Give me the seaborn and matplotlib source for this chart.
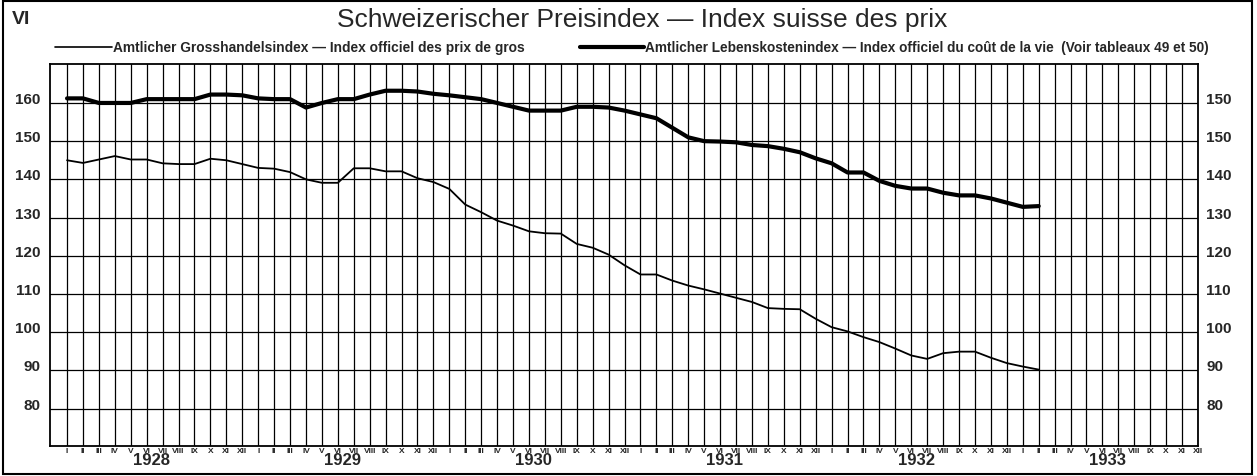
import numpy as np
import pandas as pd
import matplotlib
matplotlib.use("Agg")
import matplotlib.pyplot as plt
import matplotlib.transforms as mtransforms
from matplotlib.lines import Line2D
from matplotlib.patches import Rectangle
import seaborn as sns

# ---------------- data ----------------
years = [1928, 1929, 1930, 1931, 1932, 1933]
months = ["I", "II", "III", "IV", "V", "VI", "VII", "VIII", "IX", "X", "XI", "XII"]

# Amtlicher Grosshandelsindex (thin line), Jan 1928 .. Feb 1933
wholesale = [145.0, 144.3, 145.2, 146.1, 145.2, 145.2, 144.2, 144.0, 144.0, 145.4, 145.0, 144.0,
             143.0, 142.8, 141.9, 140.0, 139.1, 139.1, 142.9, 142.9, 142.1, 142.1, 140.3, 139.3,
             137.5, 133.4, 131.4, 129.2, 127.9, 126.4, 125.9, 125.8, 123.1, 122.1, 120.3, 117.5,
             115.1, 115.1, 113.5, 112.2, 111.2, 110.1, 109.0, 107.9, 106.3, 106.1, 106.0, 103.5,
             101.3, 100.2, 98.7, 97.4, 95.7, 93.9, 93.0, 94.5, 94.9, 94.9, 93.3, 91.9,
             91.0, 90.2]

# Amtlicher Lebenskostenindex (thick line), Jan 1928 .. Feb 1933
living = [161.2, 161.2, 160.0, 160.0, 160.0, 161.0, 161.0, 161.0, 161.0, 162.2, 162.2, 162.0,
          161.2, 161.0, 161.0, 158.8, 160.0, 161.0, 161.0, 162.2, 163.2, 163.2, 163.0, 162.4,
          162.0, 161.5, 161.0, 160.0, 159.0, 158.0, 158.0, 158.0, 159.0, 159.0, 158.8, 158.0,
          157.0, 156.0, 153.5, 151.0, 150.0, 149.9, 149.7, 149.0, 148.7, 148.0, 147.1, 145.5,
          144.2, 141.8, 141.8, 139.6, 138.3, 137.6, 137.6, 136.5, 135.8, 135.8, 135.0, 133.9,
          132.8, 133.0]

left_ticks = [80, 90, 100, 110, 120, 130, 140, 150, 160]
right_tick_labels = ["80", "90", "100", "110", "120", "130", "140", "150", "150"]

title = "Schweizerischer Preisindex \u2014 Index suisse des prix"
legend1 = "Amtlicher Grosshandelsindex \u2014 Index officiel des prix de gros"
legend2 = "Amtlicher Lebenskostenindex \u2014 Index officiel du co\u00fbt de la vie  (Voir tableaux 49 et 50)"

# ---------------- figure ----------------
sns.set_style("white")
plt.rcParams["font.family"] = ["Liberation Sans", "DejaVu Sans"]

W, H = 1257, 477
fig = plt.figure(figsize=(W / 100, H / 100), dpi=100)
ax = fig.add_axes([50 / W, 1 - 447 / H, (1198 - 50) / W, (447 - 65) / H])

n = len(wholesale)
df = pd.DataFrame({
    "m": np.arange(n),
    "wholesale": wholesale,
    "living": living,
})

nmonths = 12 * len(years)
ax.set_xlim(-1.07, nmonths - 1)
ax.set_ylim(70.2, 170.2)

# grid
ax.set_xticks(np.arange(nmonths))
ax.set_xticklabels([months[i % 12] for i in range(nmonths)], fontsize=6, fontweight="bold",
                   family=["Liberation Sans Narrow", "Liberation Sans"])
ax.set_xticks([12 * k + 11 for k in range(len(years))], minor=True)
ax.set_yticks(left_ticks)
ax.set_yticklabels([str(t) for t in left_ticks], fontsize=11, fontweight="bold")
ax.grid(True, which="major", axis="both", color="black", linewidth=0.9)
ax.grid(True, which="minor", axis="x", color="black", linewidth=2.0)
ax.tick_params(axis="x", which="major", length=0, pad=1)
ax.tick_params(axis="x", which="minor", length=0)
ax.tick_params(axis="y", length=0, pad=7)
for s in ax.spines.values():
    s.set_color("black")
    s.set_linewidth(1.3)

sns.lineplot(data=df, x="m", y="wholesale", ax=ax, color="black", linewidth=1.3)
sns.lineplot(data=df, x="m", y="living", ax=ax, color="black", linewidth=3.0)
ax.set_xlabel("")
ax.set_ylabel("")

# year labels
trans = mtransforms.blended_transform_factory(ax.transData, ax.transAxes)
for k, yr in enumerate(years):
    ax.text(12 * k + 5.3, -0.036, str(yr), transform=trans, ha="center", va="center",
            fontsize=12, fontweight="bold")

# right axis
ax2 = ax.twinx()
ax2.set_ylim(ax.get_ylim())
ax2.set_yticks(left_ticks)
ax2.set_yticklabels(right_tick_labels, fontsize=11, fontweight="bold")
ax2.tick_params(axis="y", length=0, pad=6)
for s in ax2.spines.values():
    s.set_visible(False)

# nudge y labels slightly upward
off = mtransforms.ScaledTranslation(0, 4 / 72, fig.dpi_scale_trans)
for lab in ax.get_yticklabels() + ax2.get_yticklabels():
    lab.set_transform(lab.get_transform() + off)

# header texts
fig.text(642 / W, 1 - 20 / H, title, ha="center", va="center", fontsize=19)
fig.text(12 / W, 1 - 20 / H, "VI", ha="left", va="center", fontsize=14, fontweight="bold")

ly = 1 - 48 / H
fig.add_artist(Line2D([55 / W, 112 / W], [ly, ly], color="black", linewidth=1.2))
fig.text(113 / W, ly, legend1, ha="left", va="center", fontsize=9.9, fontweight="bold")
fig.add_artist(Line2D([580 / W, 644 / W], [ly, ly], color="black", linewidth=3.0))
fig.text(645 / W, ly, legend2, ha="left", va="center", fontsize=9.8, fontweight="bold")

# outer frame
fig.add_artist(Rectangle((3 / W, 2 / H), (1252 - 3) / W, (475 - 2) / H, transform=fig.transFigure,
                         fill=False, edgecolor="black", linewidth=1.5))

fig.savefig("out.png", dpi=100)
